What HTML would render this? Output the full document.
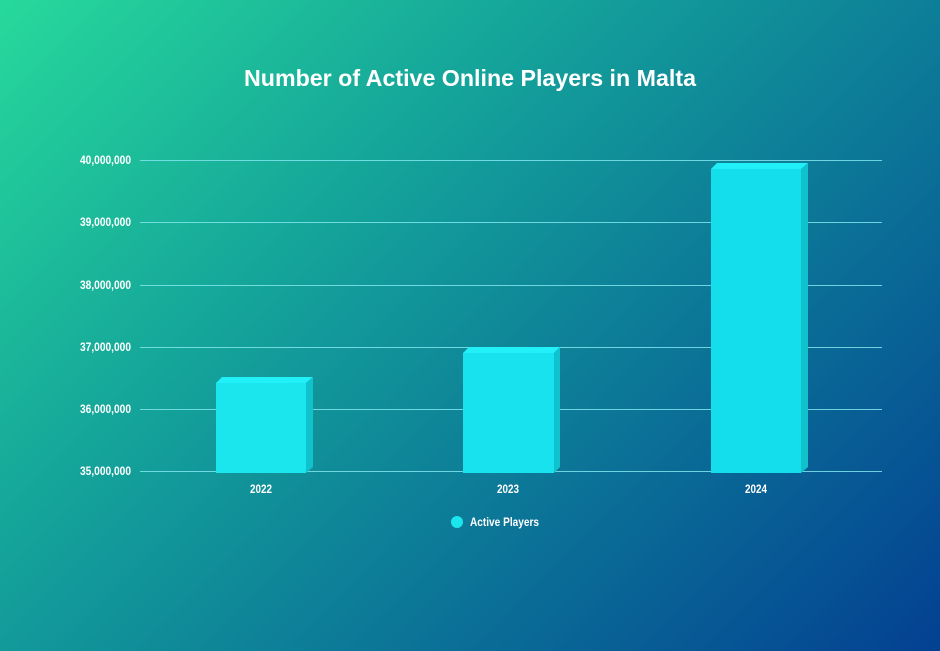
<!DOCTYPE html>
<html><head><style>
html,body{margin:0;padding:0}
body{width:940px;height:651px;overflow:hidden;background:linear-gradient(135deg,#27d99b 0%,#14a39a 35%,#0d7d98 60%,#034092 100%);font-family:"Liberation Sans",sans-serif}
</style></head><body>
<svg width="940" height="651" xmlns="http://www.w3.org/2000/svg" style="position:absolute;left:0;top:0">
<text x="470" y="86" text-anchor="middle" font-family="Liberation Sans" font-weight="bold" font-size="23" fill="#fff" textLength="452" lengthAdjust="spacingAndGlyphs">Number of Active Online Players in Malta</text>
<g stroke="#7fe6ee" stroke-width="1" opacity="0.85">
<line x1="140" x2="882" y1="160.5" y2="160.5"/>
<line x1="140" x2="882" y1="222.5" y2="222.5"/>
<line x1="140" x2="882" y1="285.5" y2="285.5"/>
<line x1="140" x2="882" y1="347.5" y2="347.5"/>
<line x1="140" x2="882" y1="409.5" y2="409.5"/>
<line x1="140" x2="882" y1="471.5" y2="471.5"/>
</g>
<g font-family="Liberation Sans" font-weight="bold" font-size="11.5" fill="#fff" text-anchor="end">
<text x="131" y="164" textLength="51" lengthAdjust="spacingAndGlyphs">40,000,000</text>
<text x="131" y="226" textLength="51" lengthAdjust="spacingAndGlyphs">39,000,000</text>
<text x="131" y="289" textLength="51" lengthAdjust="spacingAndGlyphs">38,000,000</text>
<text x="131" y="351" textLength="51" lengthAdjust="spacingAndGlyphs">37,000,000</text>
<text x="131" y="413" textLength="51" lengthAdjust="spacingAndGlyphs">36,000,000</text>
<text x="131" y="475" textLength="51" lengthAdjust="spacingAndGlyphs">35,000,000</text>
</g>
<g>
<polygon points="216,383 222,377 313,377 306,383" fill="#22f0f8"/>
<polygon points="306,383 313,377 313,467 306,473" fill="#10c2cc"/>
<rect x="216" y="383" width="90" height="90" fill="#1be6ee"/>
<polygon points="463,353 469,347 560,347 554,353" fill="#22f0f8"/>
<polygon points="554,353 560,347 560,467 554,473" fill="#10c2cc"/>
<rect x="463" y="353" width="91" height="120" fill="#17e2ee"/>
<polygon points="711,169 717,163 808,163 801,169" fill="#22f0f8"/>
<polygon points="801,169 808,163 808,467 801,473" fill="#10c2cc"/>
<rect x="711" y="169" width="90" height="304" fill="#14ddec"/>
</g>
<g font-family="Liberation Sans" font-weight="bold" font-size="11.5" fill="#fff" text-anchor="middle">
<text x="261" y="493" textLength="22" lengthAdjust="spacingAndGlyphs">2022</text>
<text x="508" y="493" textLength="22" lengthAdjust="spacingAndGlyphs">2023</text>
<text x="756" y="493" textLength="22" lengthAdjust="spacingAndGlyphs">2024</text>
</g>
<circle cx="457" cy="522" r="6" fill="#1be6ee"/>
<text x="470" y="526" font-family="Liberation Sans" font-weight="bold" font-size="11.5" fill="#fff" textLength="69" lengthAdjust="spacingAndGlyphs">Active Players</text>
</svg>
</body></html>
